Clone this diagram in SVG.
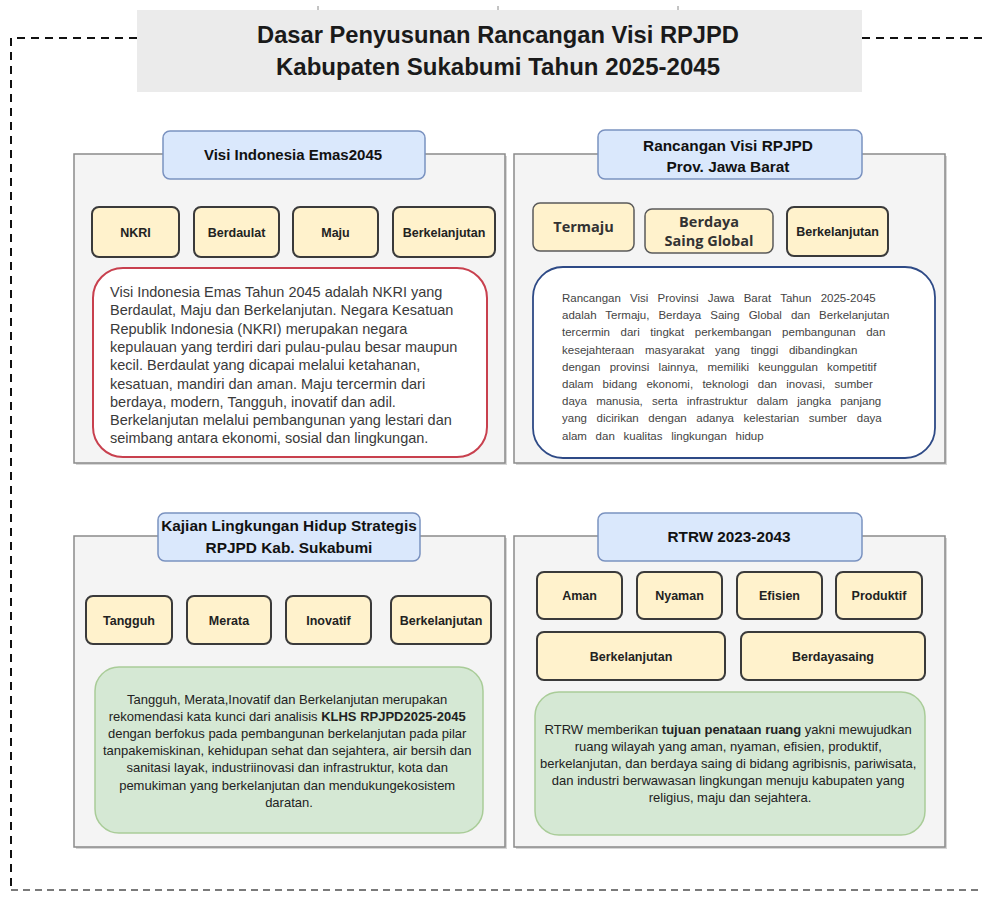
<svg xmlns="http://www.w3.org/2000/svg" width="982" height="904" viewBox="0 0 982 904">
<defs>
<style>
.panel{fill:#f4f4f4;stroke:#8a8a8a;stroke-width:1.5}
.shadow{fill:#d6d6d6}
.hdr{fill:#dae8fc;stroke:#7a92c0;stroke-width:1.5}
.yb{fill:#fff2cc;stroke:#3a3a3a;stroke-width:2}
.yb2{fill:#fff2cc;stroke:#5a5a5a;stroke-width:1.5}
.grn{fill:#d5e8d4;stroke:#a9cc98;stroke-width:1.5}
.t{font-family:"Liberation Sans",Arial,sans-serif;fill:#1a1a1a}
.b{font-weight:bold}
.c{text-anchor:middle}
.ht{font-weight:bold;fill:#111}
.kw{font-size:12.5px;font-weight:bold;fill:#222}
.cal{font-family:"Open Sans","Noto Sans",sans-serif;font-weight:700;font-size:14.5px;fill:#333}
.body1{font-size:14.5px;fill:#3a3a3a}
.body2{font-size:11.5px;fill:#444}
.body3{font-size:13px;fill:#222}
.dash{fill:none;stroke:#111;stroke-width:2;stroke-dasharray:8 6}
</style>
</defs>
<rect width="982" height="904" fill="#ffffff"/>

<g id="frame">
<path class="dash" d="M137 38 H11 V890"/>
<path class="dash" d="M862 38 H982"/>
<path d="M11 890 H982" fill="none" stroke="#7a7a7a" stroke-width="1.8" stroke-dasharray="7 5"/>
<line x1="318" y1="6" x2="318" y2="13" stroke="#888" stroke-width="1"/>
<line x1="498" y1="6" x2="498" y2="13" stroke="#888" stroke-width="1"/>
<line x1="678" y1="6" x2="678" y2="13" stroke="#888" stroke-width="1"/>
</g>

<g id="title">
<rect x="137" y="10" width="725" height="82" fill="#ebebeb"/>
<text class="t b c" x="498" y="43" font-size="24" textLength="482" lengthAdjust="spacingAndGlyphs">Dasar Penyusunan Rancangan Visi RPJPD</text>
<text class="t b c" x="498" y="75" font-size="24" textLength="444" lengthAdjust="spacingAndGlyphs">Kabupaten Sukabumi Tahun 2025-2045</text>
</g>

<g id="connectors"></g>

<!-- Panel 1 -->
<g id="panel-visi-indonesia">
<rect class="shadow" x="76" y="156" width="431" height="309"/>
<rect class="panel" x="74" y="154" width="431" height="309"/>
<rect class="hdr" x="163" y="131" width="262" height="48" rx="7"/>
<text class="t ht c" x="293" y="160" font-size="15">Visi Indonesia Emas2045</text>
</g>
<g id="kw-nkri"><rect class="yb" x="92" y="207" width="87" height="50" rx="7"/><text class="t kw c" x="135.5" y="236.5">NKRI</text></g>
<g id="kw-berdaulat"><rect class="yb" x="194" y="207" width="85" height="50" rx="7"/><text class="t kw c" x="236.5" y="236.5">Berdaulat</text></g>
<g id="kw-maju"><rect class="yb" x="293" y="207" width="85" height="50" rx="7"/><text class="t kw c" x="335.5" y="236.5">Maju</text></g>
<g id="kw-berkelanjutan1"><rect class="yb" x="393" y="207" width="102" height="50" rx="7"/><text class="t kw c" x="444" y="236.5">Berkelanjutan</text></g>
<g id="desc-visi-indonesia">
<rect x="93" y="268" width="394" height="189" rx="30" fill="#ffffff" stroke="#c8404e" stroke-width="2"/>
<text class="t body1" x="110">
<tspan x="110" y="297">Visi Indonesia Emas Tahun 2045 adalah NKRI yang</tspan>
<tspan x="110" y="315.3">Berdaulat, Maju dan Berkelanjutan. Negara Kesatuan</tspan>
<tspan x="110" y="333.6">Republik Indonesia (NKRI) merupakan negara</tspan>
<tspan x="110" y="351.9">kepulauan yang terdiri dari pulau-pulau besar maupun</tspan>
<tspan x="110" y="370.2">kecil.  Berdaulat yang dicapai melalui ketahanan,</tspan>
<tspan x="110" y="388.5">kesatuan, mandiri dan aman. Maju tercermin dari</tspan>
<tspan x="110" y="406.8">berdaya, modern, Tangguh, inovatif dan adil.</tspan>
<tspan x="110" y="425.1">Berkelanjutan melalui pembangunan yang lestari dan</tspan>
<tspan x="110" y="443.4">seimbang antara ekonomi, sosial dan lingkungan.</tspan>
</text>
</g>

<!-- Panel 2 -->
<g id="panel-jabar">
<rect class="shadow" x="516" y="156" width="431" height="309"/>
<rect class="panel" x="514" y="154" width="431" height="309"/>
<rect class="hdr" x="598" y="130" width="264" height="49" rx="7"/>
<text class="t ht c" x="728" y="151" font-size="15.4">Rancangan Visi RPJPD</text>
<text class="t ht c" x="728" y="172" font-size="15.4">Prov. Jawa Barat</text>
</g>
<g id="kw-termaju"><rect class="yb2" x="533" y="203" width="101" height="48" rx="7"/><text class="cal c" x="583.5" y="232">Termaju</text></g>
<g id="kw-berdaya"><rect class="yb2" x="645" y="209" width="128" height="44" rx="7"/><text class="cal c" x="709" y="227">Berdaya</text><text class="cal c" x="709" y="246">Saing Global</text></g>
<g id="kw-berkelanjutan2"><rect class="yb" x="787" y="207" width="101" height="49" rx="7"/><text class="t kw c" x="837.5" y="236">Berkelanjutan</text></g>
<g id="desc-jabar">
<rect x="533" y="267" width="402" height="191" rx="30" fill="#ffffff" stroke="#2e4a86" stroke-width="1.8"/>
<text class="t body2">
<tspan x="562" y="302" word-spacing="6">Rancangan Visi Provinsi Jawa Barat Tahun 2025-2045</tspan>
<tspan x="562" y="319.2" word-spacing="5.8">adalah Termaju, Berdaya Saing Global dan Berkelanjutan</tspan>
<tspan x="562" y="336.4" word-spacing="7.4">tercermin dari tingkat perkembangan pembangunan dan</tspan>
<tspan x="562" y="353.6" word-spacing="7.5">kesejahteraan masyarakat yang tinggi dibandingkan</tspan>
<tspan x="562" y="370.8" word-spacing="6.1">dengan provinsi lainnya, memiliki keunggulan kompetitif</tspan>
<tspan x="562" y="388" word-spacing="6.1">dalam bidang ekonomi, teknologi dan inovasi, sumber</tspan>
<tspan x="562" y="405.2" word-spacing="6">daya manusia, serta infrastruktur dalam jangka panjang</tspan>
<tspan x="562" y="422.4" word-spacing="6.4">yang dicirikan dengan adanya kelestarian sumber daya</tspan>
<tspan x="562" y="439.6" word-spacing="5.5">alam dan kualitas lingkungan hidup</tspan>
</text>
</g>

<!-- Panel 3 -->
<g id="panel-klhs">
<rect class="shadow" x="76" y="538" width="431" height="311"/>
<rect class="panel" x="74" y="536" width="431" height="311"/>
<rect class="hdr" x="158" y="513" width="262" height="48" rx="7"/>
<text class="t ht c" x="289" y="530.5" font-size="15.4">Kajian Lingkungan Hidup Strategis</text>
<text class="t ht c" x="289" y="552.5" font-size="15.4">RPJPD Kab. Sukabumi</text>
</g>
<g id="kw-tangguh"><rect class="yb" x="86" y="596" width="86" height="48" rx="7"/><text class="t kw c" x="129" y="624.5">Tangguh</text></g>
<g id="kw-merata"><rect class="yb" x="187" y="596" width="84" height="48" rx="7"/><text class="t kw c" x="229" y="624.5">Merata</text></g>
<g id="kw-inovatif"><rect class="yb" x="286" y="596" width="85" height="48" rx="7"/><text class="t kw c" x="328.5" y="624.5">Inovatif</text></g>
<g id="kw-berkelanjutan3"><rect class="yb" x="391" y="596" width="100" height="48" rx="7"/><text class="t kw c" x="441" y="624.5">Berkelanjutan</text></g>
<g id="desc-klhs">
<rect class="grn" x="95" y="667" width="388" height="166" rx="24"/>
<text class="t body3 c" font-size="13.6">
<tspan x="289" y="703.5">Tangguh, Merata,Inovatif dan Berkelanjutan merupakan</tspan>
<tspan x="289" y="720.7">rekomendasi kata kunci dari analisis <tspan font-weight="bold">KLHS RPJPD2025-2045</tspan></tspan>
<tspan x="289" y="737.9">dengan berfokus pada pembangunan berkelanjutan pada pilar</tspan>
<tspan x="289" y="755.1">tanpakemiskinan, kehidupan sehat dan sejahtera, air bersih dan</tspan>
<tspan x="289" y="772.3">sanitasi layak, industriinovasi dan infrastruktur, kota dan</tspan>
<tspan x="289" y="789.5">pemukiman yang berkelanjutan dan mendukungekosistem</tspan>
<tspan x="289" y="806.7">daratan.</tspan>
</text>
</g>

<!-- Panel 4 -->
<g id="panel-rtrw">
<rect class="shadow" x="516" y="538" width="431" height="311"/>
<rect class="panel" x="514" y="536" width="431" height="311"/>
<rect class="hdr" x="598" y="513" width="264" height="48" rx="7"/>
<text class="t ht c" x="729" y="541.5" font-size="15.3">RTRW 2023-2043</text>
</g>
<g id="kw-aman"><rect class="yb" x="537" y="572" width="85" height="47" rx="7"/><text class="t kw c" x="579.5" y="600">Aman</text></g>
<g id="kw-nyaman"><rect class="yb" x="637" y="572" width="85" height="47" rx="7"/><text class="t kw c" x="679.5" y="600">Nyaman</text></g>
<g id="kw-efisien"><rect class="yb" x="737" y="572" width="85" height="47" rx="7"/><text class="t kw c" x="779.5" y="600">Efisien</text></g>
<g id="kw-produktif"><rect class="yb" x="836" y="572" width="86" height="47" rx="7"/><text class="t kw c" x="879" y="600">Produktif</text></g>
<g id="kw-berkelanjutan4"><rect class="yb" x="537" y="632" width="188" height="48" rx="7"/><text class="t kw c" x="631" y="660.5">Berkelanjutan</text></g>
<g id="kw-berdayasaing"><rect class="yb" x="741" y="632" width="184" height="48" rx="7"/><text class="t kw c" x="833" y="660.5">Berdayasaing</text></g>
<g id="desc-rtrw">
<rect class="grn" x="535" y="692" width="390" height="143" rx="24"/>
<text class="t body3 c">
<tspan x="730" y="733.5">RTRW memberikan <tspan font-weight="bold">tujuan penataan ruang</tspan> yakni mewujudkan</tspan>
<tspan x="730" y="750.7">ruang wilayah yang aman, nyaman, efisien, produktif,</tspan>
<tspan x="730" y="767.9">berkelanjutan, dan berdaya saing di bidang agribisnis, pariwisata,</tspan>
<tspan x="730" y="785.1">dan industri berwawasan lingkungan menuju kabupaten yang</tspan>
<tspan x="730" y="802.3">religius, maju dan sejahtera.</tspan>
</text>
</g>
</svg>
